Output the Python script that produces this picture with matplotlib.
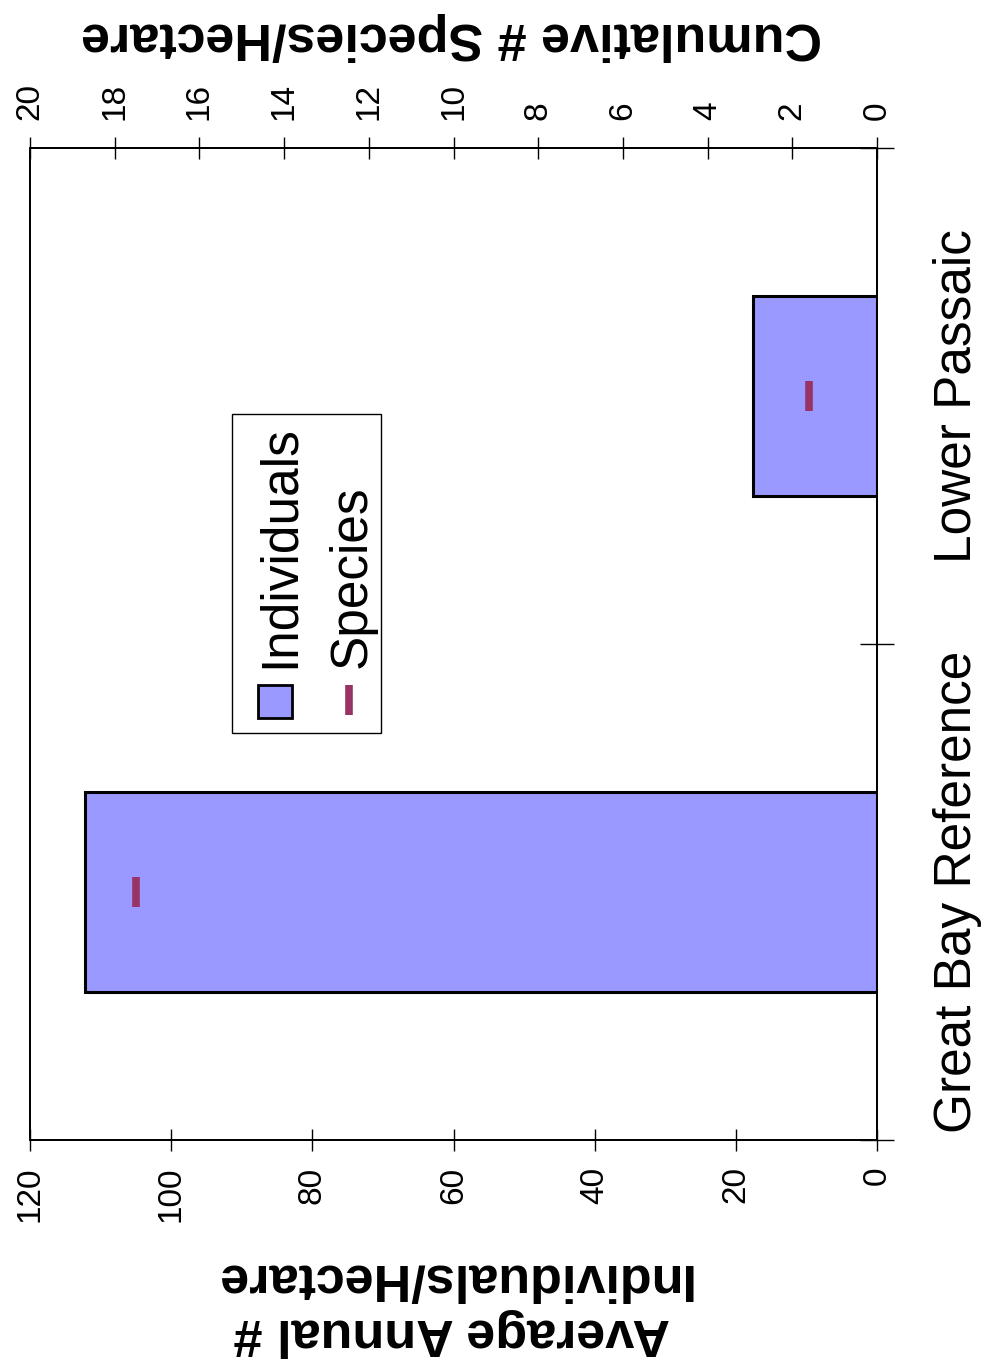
import matplotlib
matplotlib.use("Agg")
import matplotlib.pyplot as plt
from matplotlib.patches import Rectangle
from matplotlib.lines import Line2D
import numpy as np

plt.rcParams['font.family'] = ['Liberation Sans', 'DejaVu Sans']

# ---- data ----
categories = ["Great Bay Reference", "Lower Passaic"]
individuals = [112.2, 17.5]
species = [17.5, 1.6]
ind_ticks = [0, 20, 40, 60, 80, 100, 120]
sp_ticks = [0, 2, 4, 6, 8, 10, 12, 14, 16, 18, 20]

W, H = 984, 1370
fig = plt.figure(figsize=(W / 100, H / 100), dpi=100)

def fx(x):
    return x / W

def fy(y):
    return 1 - y / H

L, R, T, B = 30, 877, 148, 1140
ax = fig.add_axes([fx(L), fy(B), fx(R) - fx(L), fy(T) - fy(B)])

bar_color = "#9999FF"
sp_color = "#993366"

ypos = np.arange(len(categories))
ax.barh(ypos, individuals, height=0.405, color=bar_color, edgecolor="black", linewidth=2.2, zorder=2)
ax.set_xlim(120, 0)
ax.set_ylim(-0.5, len(categories) - 0.5)

ax.set_xticks(ind_ticks)
ax.set_xticklabels([str(t) for t in ind_ticks], rotation=90)
ax.tick_params(axis='x', direction='inout', length=16, width=1.0, labelsize=24, pad=11, colors='black')

ax.yaxis.tick_right()
ax.set_yticks(ypos)
ax.set_yticklabels(categories, rotation=90, fontsize=37)
ax.tick_params(axis='y', which='major', length=0, pad=40)
for lab in ax.get_yticklabels():
    lab.set_va('center')
ax.set_yticks([-0.5, 0.5, 1.5], minor=True)
ax.tick_params(axis='y', which='minor', direction='inout', length=24, width=1.0, right=True, left=False)

for s in ax.spines.values():
    s.set_linewidth(1.3)
    s.set_color('black')

ax2 = ax.twiny()
ax2.plot(species, ypos, linestyle='none', marker='|', markersize=21, markeredgewidth=5.5,
         color=sp_color, zorder=3)
ax2.set_xlim(20, 0)
ax2.set_ylim(-0.5, len(categories) - 0.5)
ax2.set_xticks(sp_ticks)
ax2.set_xticklabels([str(t) for t in sp_ticks], rotation=90)
ax2.tick_params(axis='x', direction='inout', length=16, width=1.0, labelsize=24, pad=12, colors='black')
for s in ax2.spines.values():
    s.set_linewidth(1.3)

# axis titles (upside down)
fig.text(fx(452), fy(1305), "Average Annual #\nIndividuals/Hectare", rotation=180,
         ha='center', va='center', fontsize=37.5, fontweight='bold', linespacing=1.15)
fig.text(fx(452), fy(37), "Cumulative # Species/Hectare", rotation=180,
         ha='center', va='center', fontsize=37.5, fontweight='bold')

# legend (rotated, drawn manually)
fig.add_artist(Rectangle((fx(232), fy(733)), fx(381) - fx(232), fy(414) - fy(733),
                         transform=fig.transFigure, facecolor='white', edgecolor='black', linewidth=1.0, zorder=5))
fig.add_artist(Rectangle((fx(258), fy(718)), fx(292) - fx(258), fy(685) - fy(718),
                         transform=fig.transFigure, facecolor=bar_color, edgecolor='black', linewidth=2.0, zorder=6))
fig.add_artist(Line2D([fx(349), fx(349)], [fy(715), fy(685)], transform=fig.transFigure,
                      color=sp_color, linewidth=5.5, solid_capstyle='butt', zorder=6))
fig.text(fx(294), fy(668), "Individuals", rotation=90, rotation_mode='anchor', ha='left', va='baseline',
         fontsize=37, zorder=6)
fig.text(fx(366), fy(668), "Species", rotation=90, rotation_mode='anchor', ha='left', va='baseline',
         fontsize=37, zorder=6)

fig.savefig("out.png", dpi=100, facecolor='white')
